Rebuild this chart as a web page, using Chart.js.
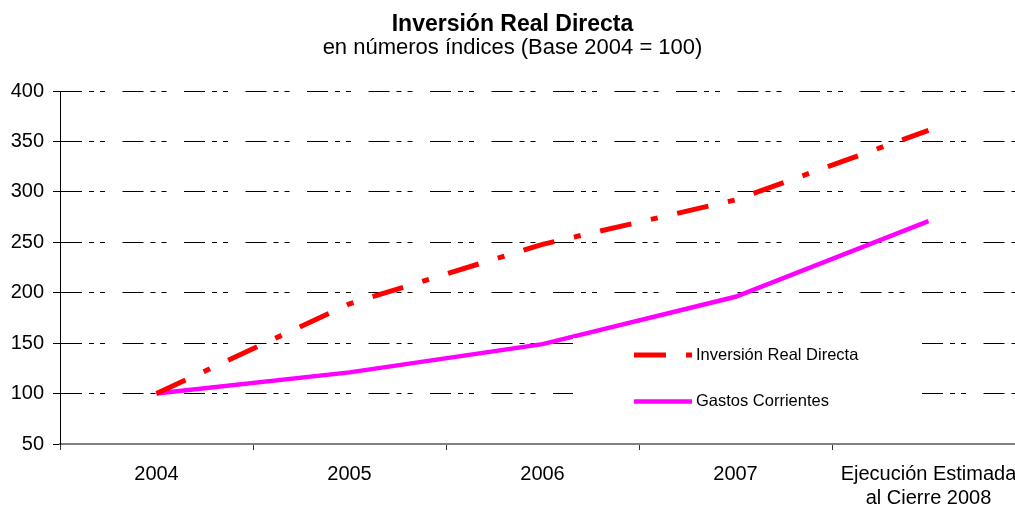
<!DOCTYPE html>
<html>
<head>
<meta charset="utf-8">
<script src="https://cdn.jsdelivr.net/npm/chart.js@4/dist/chart.umd.min.js"></script>
<style>
body { margin: 0; overflow: hidden; background: #fff; }
</style>
</head>
<body>
<canvas id="myChart" width="1035" height="508"></canvas>
<script>
var categories = ["2004", "2005", "2006", "2007", ["Ejecución Estimada", "al Cierre 2008"]];
var inversionReal = [100, 189, 248, 292, 361];
var gastosCorrientes = [100, 121, 149, 196, 271];
var yMin = 50, yMax = 400, yStep = 50;

var fontFamily = '"Liberation Sans", Arial, sans-serif';

// legend drawn inside the plot, on a white box, like the original
var legendBox = {
	id: 'legendBox',
	afterDraw: function(chart) {
		var ctx = chart.ctx;
		var area = chart.chartArea;
		var bx = area.left + 513, by = area.top + 247;
		ctx.save();
		ctx.fillStyle = '#fff';
		ctx.fillRect(bx, by, 346, 80);
		var rows = [17, 63.5];
		chart.data.datasets.forEach(function(ds, i) {
			var y = by + rows[i];
			ctx.beginPath();
			ctx.strokeStyle = ds.borderColor;
			ctx.lineWidth = ds.borderWidth;
			ctx.setLineDash(ds.borderDash || []);
			ctx.moveTo(bx + 61, y);
			ctx.lineTo(bx + 119, y);
			ctx.stroke();
			ctx.setLineDash([]);
			ctx.fillStyle = '#000';
			ctx.font = '16.5px ' + fontFamily;
			ctx.textBaseline = 'middle';
			ctx.textAlign = 'left';
			ctx.fillText(ds.label, bx + 123, y);
		});
		ctx.restore();
	}
};

var myChart = new Chart("myChart", {
	type: "line",
	data: {
		labels: categories,
		datasets: [{
			label: "Inversión Real Directa",
			data: inversionReal,
			borderColor: "#ff0000",
			backgroundColor: "#ff0000",
			borderWidth: 5,
			borderDash: [32, 20, 7, 20],
			pointRadius: 0,
			tension: 0,
			fill: false
		}, {
			label: "Gastos Corrientes",
			data: gastosCorrientes,
			borderColor: "#ff00ff",
			backgroundColor: "#ff00ff",
			borderWidth: 4.5,
			pointRadius: 0,
			tension: 0,
			fill: false
		}]
	},
	options: {
		responsive: false,
		animation: false,
		layout: { padding: { left: 0, right: 10, top: 0, bottom: 0 } },
		plugins: {
			legend: { display: false },
			tooltip: { enabled: false },
			title: {
				display: true,
				text: "Inversión Real Directa",
				color: "#000",
				font: { family: fontFamily, size: 23, weight: "bold", lineHeight: 1 },
				padding: { top: 13, bottom: 0 }
			},
			subtitle: {
				display: true,
				text: "en números índices (Base 2004 = 100)",
				color: "#000",
				font: { family: fontFamily, size: 22, lineHeight: 1 },
				padding: { top: 1, bottom: 32 }
			}
		},
		scales: {
			x: {
				offset: true,
				afterFit: function(s) { s.height = 64; },
				grid: {
					offset: true,
					drawOnChartArea: false,
					drawTicks: true,
					tickLength: 6,
					tickColor: "#333",
					color: "#333"
				},
				border: { display: true, color: "#808080", width: 2 },
				ticks: {
					color: "#000",
					padding: 12,
					maxRotation: 0,
					autoSkip: false,
					font: { family: fontFamily, size: 20, lineHeight: 1.2 }
				}
			},
			y: {
				min: yMin,
				max: yMax,
				afterFit: function(s) { s.width = 60; },
				grid: {
					color: function(c) { return c.tick && c.tick.value === yMin ? "rgba(0,0,0,0)" : "#000"; },
					lineWidth: 1,
					tickLength: 7,
					tickColor: "#000",
					tickBorderDash: []
				},
				border: { display: true, color: "#000", width: 1, dash: [21, 7, 5, 6, 5, 17.5] },
				ticks: {
					stepSize: yStep,
					color: "#000",
					padding: 9,
					font: { family: fontFamily, size: 20 }
				}
			}
		}
	},
	plugins: [legendBox]
});
</script>
</body>
</html>
